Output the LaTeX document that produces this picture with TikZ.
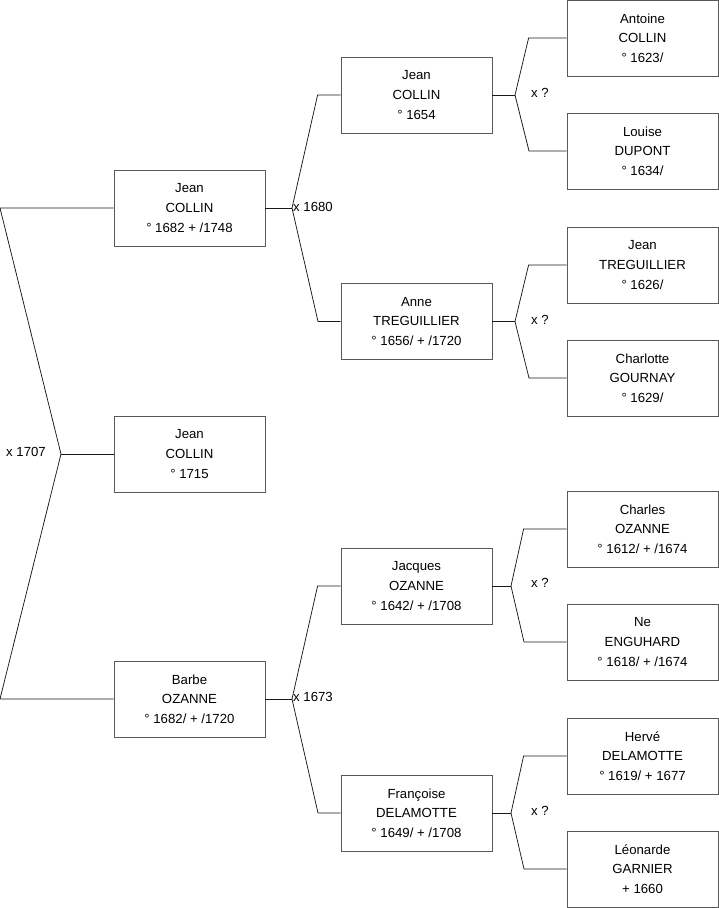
\documentclass[tikz,border=0pt]{standalone}
\usepackage{fontspec}
\setmainfont{Liberation Sans}
\tikzset{
  personbox/.style={draw=black!65,line width=0.8pt,minimum width=151pt,minimum height=76pt,
    align=center,inner sep=0pt,font=\fontsize{13.2}{19.6}\selectfont},
  lien/.style={draw=black!90,line width=0.75pt},
  mariage/.style={font=\fontsize{13.2}{15}\selectfont,inner sep=0pt}
}
\begin{document}
\begin{tikzpicture}[x=1pt,y=-1pt]
		\useasboundingbox (0,0) rectangle (719,908);
		% 第一代
		\node[personbox] (pere) at (189.5,208) {Jean\\COLLIN\\° 1682 + /1748};
		\node[personbox] (enfant) at (189.5,454) {Jean\\COLLIN\\° 1715};
		\node[personbox] (mere) at (189.5,699) {Barbe\\OZANNE\\° 1682/ + /1720};
		% 第二代
		\node[personbox] (gpp) at (416.5,95) {Jean\\COLLIN\\° 1654};
		\node[personbox] (gmp) at (416.5,321.5) {Anne\\TREGUILLIER\\° 1656/ + /1720};
		\node[personbox] (gpm) at (416.5,586) {Jacques\\OZANNE\\° 1642/ + /1708};
		\node[personbox] (gmm) at (416.5,813) {Françoise\\DELAMOTTE\\° 1649/ + /1708};
		% 第三代
		\node[personbox] (a1) at (642.5,38) {Antoine\\COLLIN\\° 1623/};
		\node[personbox] (a2) at (642.5,151) {Louise\\DUPONT\\° 1634/};
		\node[personbox] (a3) at (642.5,265) {Jean\\TREGUILLIER\\° 1626/};
		\node[personbox] (a4) at (642.5,378) {Charlotte\\GOURNAY\\° 1629/};
		\node[personbox] (a5) at (642.5,529) {Charles\\OZANNE\\° 1612/ + /1674};
		\node[personbox] (a6) at (642.5,642) {Ne\\ENGUHARD\\° 1618/ + /1674};
		\node[personbox] (a7) at (642.5,756) {Hervé\\DELAMOTTE\\° 1619/ + 1677};
		\node[personbox] (a8) at (642.5,869) {Léonarde\\GARNIER\\+ 1660};

		% 括号的拐点
		\coordinate (h1) at (0,208);
		\coordinate (h2) at (0,699);
		\coordinate (m0) at (61,454);
		\coordinate (m1) at (292,208);
		\coordinate (m2) at (292,699);
		\coordinate (m3) at (515,95);
		\coordinate (m4) at (515,321.5);
		\coordinate (m5) at (511,586);
		\coordinate (m6) at (511,813);

		% 连线
		\draw[lien] (pere.west)--(h1)--(m0)--(h2)--(mere.west);
		\draw[lien] (m0)--(enfant.west);
		\draw[lien] (pere.east)--(m1);
		\draw[lien] (gpp.west)--++(-23,0)--(m1)--(318,321.5)--(gmp.west);
		\draw[lien] (mere.east)--(m2);
		\draw[lien] (gpm.west)--++(-23,0)--(m2)--(318,813)--(gmm.west);
		\draw[lien] (gpp.east)--(m3);
		\draw[lien] (a1.west)--++(-38,0)--(m3)--(529,151)--(a2.west);
		\draw[lien] (gmp.east)--(m4);
		\draw[lien] (a3.west)--++(-38,0)--(m4)--(529,378)--(a4.west);
		\draw[lien] (gpm.east)--(m5);
		\draw[lien] (a5.west)--++(-43,0)--(m5)--(524,642)--(a6.west);
		\draw[lien] (gmm.east)--(m6);
		\draw[lien] (a7.west)--++(-43,0)--(m6)--(524,869)--(a8.west);

		% 标注婚姻
		\node[mariage,anchor=east] (x0) at (46,452) {x 1707};
		\node[mariage,anchor=west] (x1) at (293,207) {x 1680};
		\node[mariage,anchor=west] (x2) at (293,697) {x 1673};
		\node[mariage,anchor=west] (x3) at (531,93) {x ?};
		\node[mariage,anchor=west] (x4) at (531,320) {x ?};
		\node[mariage,anchor=west] (x5) at (531,583) {x ?};
		\node[mariage,anchor=west] (x6) at (531,811) {x ?};
	\end{tikzpicture}
\end{document}
